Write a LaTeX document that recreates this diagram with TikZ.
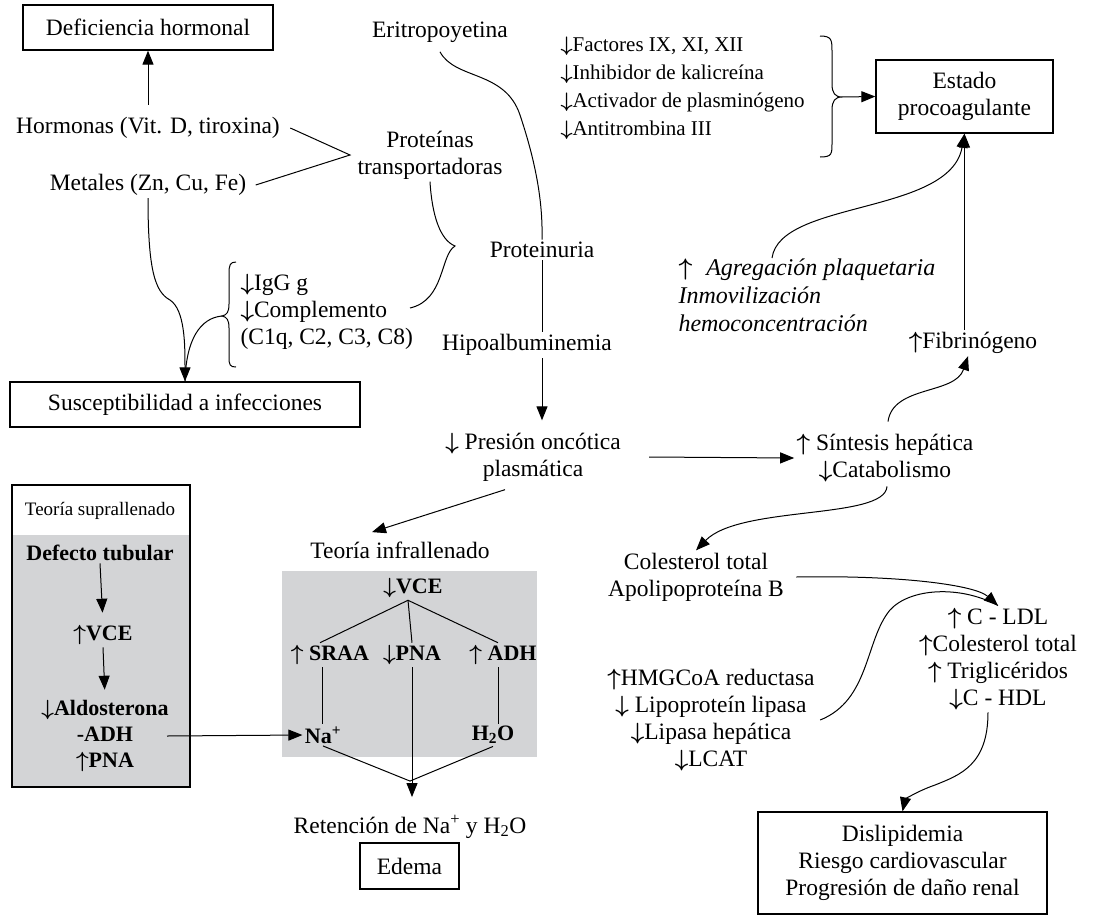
\RequirePackage{fix-cm}
\documentclass[tikz,border=0pt]{standalone}
\usepackage{bm}
\usepackage{fontspec}
\setmainfont{Liberation Serif}
\usetikzlibrary{arrows.meta}
\definecolor{boxgray}{RGB}{211,212,214}
\newcommand\fN{\fontsize{23.5}{27}\selectfont}
\newcommand\fF{\fontsize{21}{28}\selectfont}
\newcommand\fS{\fontsize{19}{22}\selectfont}
\newcommand\fB{\fontsize{22}{26}\selectfont\bfseries}
\newcommand\fI{\fontsize{24}{28}\selectfont\itshape}
\newcommand\up{$\bm{\uparrow}$}
\newcommand\dn{$\bm{\downarrow}$}
\begin{document}
\begin{tikzpicture}[x=1pt,y=-1pt,line width=1pt,
  arr/.style={-{Triangle[length=14pt,width=11pt]}},
  box/.style={draw,line width=1.3pt,inner sep=0pt,align=center,font=\fN},
  txt/.style={font=\fN,align=center,inner sep=2pt},
  btxt/.style={font=\fB,align=center,inner sep=2pt}]
\useasboundingbox (0,0) rectangle (1095,916);
% grey panels
\node[fill=boxgray,minimum width=255pt,minimum height=186pt,inner sep=0pt] (infbox) at (409.5,664) {};
\node[fill=boxgray,minimum width=178pt,minimum height=252pt,inner sep=0pt] (supg) at (101,661) {};
\node[draw,line width=1.3pt,minimum width=178pt,minimum height=302pt,inner sep=0pt] (supbox) at (101,636) {};
% top left
\node[box,minimum width=250pt,minimum height=45pt] (defh) at (148,27.5) {Deficiencia hormonal};
\node[txt] (horm) at (148,128) {Hormonas (Vit. D, tiroxina)};
\node[txt] (met) at (148,185) {Metales (Zn, Cu, Fe)};
\node[txt] (prot) at (430,155) {Proteínas\\transportadoras};
\coordinate (vtip) at (350,155);
\draw ([xshift=8pt]horm.east) -- (vtip) -- ([xshift=7pt]met.east);
\draw[arr] ([yshift=10pt]horm.north) -- (defh.south);
% centre column
\node[txt] (eri) at (440,32) {Eritropoyetina};
\node[txt] (prt) at (542,250) {Proteinuria};
\node[txt] (hipo) at (527,345) {Hipoalbuminemia};
\node[txt] (pres) at (533,457) {\dn\ Presión oncótica\\plasmática};
\draw ([yshift=-7pt]eri.south) .. controls (455,80) and (505,70) .. (520,115) .. controls (535,160) and (543,200) .. (prt.north);
\draw (prt.south) -- (prt.south |- hipo.north);
\coordinate (ptip) at ([yshift=10pt]pres.north);
\draw[arr] (hipo.south -| prt.south) -- (prt.south |- ptip);
\draw (prot.south) .. controls (432,215) and (440,240) .. (455,246) .. controls (440,255) and (445,300) .. (410,308);
% factors
\node[font=\fF,align=left,anchor=west,inner sep=0pt] (fact) at (560,88) {\dn Factores IX, XI, XII\\\dn Inhibidor de kalicreína\\\dn Activador de plasminógeno\\\dn Antitrombina III};
\draw (820,36) .. controls (832,36) and (832,40) .. (832,52) -- (832,84) .. controls (832,93) and (835,97) .. (842,97) coordinate (btip) .. controls (835,97) and (832,101) .. (832,110) -- (832,143) .. controls (832,154) and (832,157) .. (820,157);
\node[box,minimum width=177pt,minimum height=73pt] (proc) at (964.5,96.5) {Estado\\procoagulante};
\draw[arr] (btip) -- (proc.west);
% procoagulant side
\node[font=\fI,align=left,anchor=north west,inner sep=0pt] (agr) at (678,258) {\up\hspace{14pt}Agregación plaquetaria\\Inmovilización\\hemoconcentración};
\node[txt] (fib) at (973,343) {\up Fibrinógeno};
\node[txt] (sint) at (885,458) {\up\ Síntesis hepática\\\dn Catabolismo};
\draw[arr] ([xshift=94pt]agr.north west) .. controls (780,200) and (950,215) .. (proc.south);
\draw[arr] (fib.north -| proc.south) -- (proc.south);
\draw[arr] ([xshift=3pt,yshift=10pt]sint.north) .. controls (893,385) and (955,395) .. ([xshift=-5pt]fib.south);
\draw[arr] ([xshift=26pt]pres.east) -- (sint.west);
% infections
\node[txt,align=left,anchor=west] (igg) at (238,312) {\dn IgG g\\\dn Complemento\\(C1q, C2, C3, C8)};
\draw (236,262) .. controls (230,262) and (229,265) .. (229,274) -- (229,304) .. controls (229,312) and (227,315) .. (222,316) coordinate (igtip) .. controls (227,317) and (229,320) .. (229,328) -- (229,357) .. controls (229,365) and (230,367) .. (236,367);
\node[box,minimum width=350pt,minimum height=45pt] (susc) at (185,404.5) {Susceptibilidad a infecciones};
\draw (igtip) .. controls (200,318) and (186,340) .. (susc.north);
\draw[arr] (met.south) .. controls (148,270) and (155,292) .. (170,300) .. controls (185,310) and (185,345) .. (susc.north);
% suprallenado
\node[font=\fS] (suph) at (100,511) {Teoría suprallenado};
\node[btxt] (def) at (100,553) {Defecto tubular};
\node[btxt] (vce1) at (103,635) {\up VCE};
\node[btxt] (aldo) at (105,736) {\dn Aldosterona\\-ADH\\\up PNA};
\draw[arr,shorten >=10pt] (def.south) -- (vce1.north);
\draw[arr,shorten >=8pt] (vce1.south) -- (aldo.north);
% infrallenado
\node[txt] (infra) at (400,550) {Teoría infrallenado};
\draw[arr] ([xshift=-28pt,yshift=-6pt]pres.south) -- ([xshift=-28pt,yshift=7pt]infra.north);
\node[btxt] (vce2) at (413,588) {\dn VCE};
\node[btxt] (sraa) at (330,655) {\up\ SRAA};
\node[btxt] (pna) at (412,655) {\dn PNA};
\node[btxt] (adh) at (503,655) {\up\ ADH};
\node[btxt] (na) at (323,735) {Na\textsuperscript{+}};
\node[btxt] (h2o) at (493,735) {H\textsubscript{2}O};
\coordinate (vap) at ([xshift=-5pt]vce2.south);
\draw ([xshift=-10pt]sraa.north) -- (vap) -- ([xshift=-5pt]adh.north);
\draw (vap) -- (pna.north);
\coordinate (s1) at ([xshift=-8pt]sraa.south);
\draw (s1) -- (s1 |- na.north);
\coordinate (s2) at ([xshift=-5pt]adh.south);
\draw (s2) -- (s2 |- h2o.north);
\draw[arr] ([xshift=62pt]aldo.center) -- (na.west);
\node[txt] (ret) at (410,827) {Retención de Na\textsuperscript{+} y H\textsubscript{2}O};
\node[box,minimum width=99pt,minimum height=46pt] (edema) at (409.5,866) {Edema};
\coordinate (rjoin) at ([yshift=32pt]ret.north);
\draw (na.south) -- (rjoin) -- (h2o.south);
\draw[arr,shorten >=16pt] (pna.south) -- (pna.south |- ret.north);
% lipids
\node[txt] (col) at (696,577) {Colesterol total\\Apolipoproteína B};
\node[txt] (hmg) at (711,720) {\up HMGCoA reductasa\\\dn\ Lipoproteín lipasa\\\dn Lipasa hepática\\\dn LCAT};
\node[txt] (ldl) at (998,659) {\up\ C - LDL\\\up Colesterol total\\\up\ Triglicéridos\\\dn C - HDL};
\node[box,minimum width=289pt,minimum height=102pt] (disl) at (902.5,863) {Dislipidemia\\Riesgo cardiovascular\\Progresión de daño renal};
\draw[arr] ([xshift=2pt,yshift=-2pt]sint.south) .. controls (885,520) and (740,505) .. (col.north);
\draw ([xshift=3pt]hmg.east) .. controls (870,700) and (865,640) .. (890,610) .. controls (910,588) and (960,585) .. (ldl.north);
\draw[arr] ([xshift=10pt]col.east) .. controls (900,575) and (975,585) .. (ldl.north);
\draw[arr] ([xshift=-10pt]ldl.south) .. controls (988,765) and (960,775) .. (935,785) .. controls (915,792) and (905,800) .. (disl.north);
\end{tikzpicture}
\end{document}
